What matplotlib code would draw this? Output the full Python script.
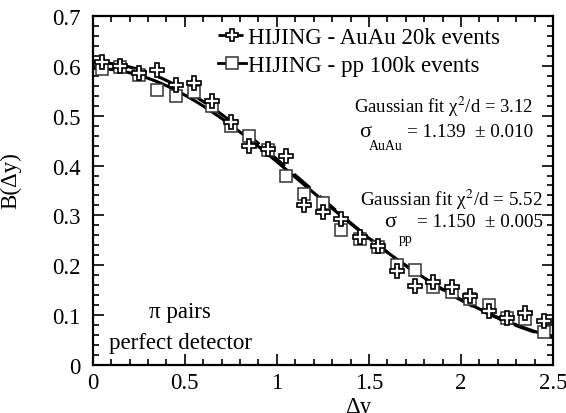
import numpy as np
import matplotlib
matplotlib.use('Agg')
import matplotlib.pyplot as plt
from matplotlib.lines import Line2D
from matplotlib.ticker import MultipleLocator

plt.rcParams['font.family'] = ['Liberation Serif', 'DejaVu Serif']
plt.rcParams['mathtext.fontset'] = 'stix'

# bin centres in delta-y
dy = [0.05, 0.15, 0.25, 0.35, 0.45, 0.55, 0.65, 0.75, 0.85, 0.95,
      1.05, 1.15, 1.25, 1.35, 1.45, 1.55, 1.65, 1.75, 1.85, 1.95,
      2.05, 2.15, 2.25, 2.35, 2.45]

# HIJING AuAu 20k events (crosses)
b_auau = [0.608, 0.600, 0.585, 0.592, 0.562, 0.565, 0.530, 0.487, 0.440, 0.433,
          0.420, 0.321, 0.306, 0.293, 0.257, 0.239, 0.189, 0.159, 0.166, 0.157,
          0.139, 0.109, 0.094, 0.104, 0.089]
err_auau = [0.006] * 25

# HIJING pp 100k events (squares)
b_pp = [0.594, 0.597, 0.582, 0.552, 0.539, 0.548, 0.519, 0.480, 0.460, 0.432,
        0.380, 0.343, 0.324, 0.271, 0.253, 0.237, 0.200, 0.190, 0.156, 0.146,
        0.132, 0.120, 0.094, 0.092, 0.067]
err_pp = [0.006] * 25

# gaussian fit parameters
amp_auau, sig_auau = 0.607, 1.139
amp_pp, sig_pp = 0.595, 1.150

fig = plt.figure(figsize=(5.66, 4.14), dpi=100)
ax = fig.add_axes([0.164, 0.116, 0.813, 0.843])

xf = np.linspace(0.0, 2.5, 300)
ax.plot(xf, amp_pp * np.exp(-xf**2 / (2 * sig_pp**2)), 'k-', lw=2.2, zorder=2)
ax.plot(xf, amp_auau * np.exp(-xf**2 / (2 * sig_auau**2)), color='k', lw=2.2,
        dashes=(7, 4), zorder=2)

ax.errorbar(dy, b_pp, yerr=err_pp, fmt='s', ms=8, mfc='white', mec='#333333',
            mew=1.1, ecolor='#333333', elinewidth=0.8, capsize=2, capthick=0.8, zorder=3)
ax.errorbar(dy, b_auau, yerr=err_auau, fmt='P', ms=10, mfc='white', mec='black',
            mew=1.2, ecolor='black', elinewidth=0.8, capsize=2, zorder=4)

ax.set_xlim(0, 2.5)
ax.set_ylim(0, 0.7)
ax.xaxis.set_minor_locator(MultipleLocator(0.1))
ax.yaxis.set_minor_locator(MultipleLocator(0.02))
ax.set_xticks([0, 0.5, 1, 1.5, 2, 2.5])
ax.set_xticklabels(['0', '0.5', '1', '1.5', '2', '2.5'])
ax.set_yticks([0, 0.1, 0.2, 0.3, 0.4, 0.5, 0.6, 0.7])
ax.set_yticklabels(['0', '0.1', '0.2', '0.3', '0.4', '0.5', '0.6', '0.7'])
ax.tick_params(which='both', direction='in', top=True, right=True, labelsize=16.5, width=1.2)
ax.tick_params(axis='y', which='major', pad=9)
ax.tick_params(axis='x', which='major', pad=5)
ax.tick_params(which='major', length=8)
ax.tick_params(which='minor', length=4)
for s in ax.spines.values():
    s.set_linewidth(1.6)

ax.set_xlabel('Δy', fontsize=16.5)
ax.xaxis.set_label_coords(0.576, -0.088)
ax.set_ylabel('B(Δy)', fontsize=16.5)
ax.yaxis.set_label_coords(-0.155, 0.53)

handles = [
    Line2D([], [], color='k', lw=2, dashes=(3, 3), marker='P', ms=9, mfc='white', mec='k', mew=1.2),
    Line2D([], [], color='k', lw=2, marker='s', ms=8, mfc='white', mec='#333333', mew=1.1),
]
ax.legend(handles, ['HIJING - AuAu 20k events', 'HIJING - pp 100k events'],
          loc='upper left', bbox_to_anchor=(0.238, 1.015), frameon=False, fontsize=16.5,
          handlelength=1.2, handletextpad=0.1, labelspacing=0.32, borderaxespad=0.3)

ax.text(0.957, 0.742, 'Gaussian fit χ$^{2}$/d = 3.12', transform=ax.transAxes,
        ha='right', va='center', fontsize=13.5)
ax.text(0.578, 0.668, 'σ', transform=ax.transAxes, ha='left', va='center', fontsize=16)
ax.text(0.600, 0.628, 'AuAu', transform=ax.transAxes, ha='left', va='center', fontsize=10)
ax.text(0.957, 0.668, '= 1.139  ± 0.010', transform=ax.transAxes, ha='right', va='center', fontsize=13.8)

ax.text(0.978, 0.476, 'Gaussian fit χ$^{2}$/d = 5.52', transform=ax.transAxes,
        ha='right', va='center', fontsize=13.8)
ax.text(0.632, 0.410, 'σ', transform=ax.transAxes, ha='left', va='center', fontsize=16)
ax.text(0.664, 0.362, 'pp', transform=ax.transAxes, ha='left', va='center', fontsize=10)
ax.text(0.978, 0.410, '= 1.150  ± 0.005', transform=ax.transAxes, ha='right', va='center', fontsize=13.8)

ax.text(0.19, 0.152, 'π pairs', transform=ax.transAxes, ha='center', va='center', fontsize=16.5)
ax.text(0.19, 0.065, 'perfect detector', transform=ax.transAxes, ha='center', va='center', fontsize=16.5)

fig.savefig('out.png', dpi=100)
